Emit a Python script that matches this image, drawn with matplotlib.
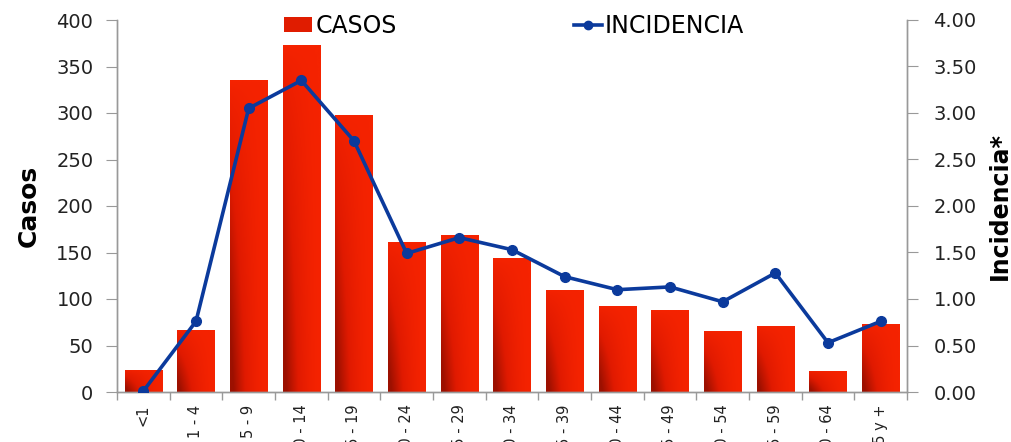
import numpy as np
import matplotlib
matplotlib.use("Agg")
import matplotlib.pyplot as plt
from matplotlib.colors import LinearSegmentedColormap
from matplotlib.lines import Line2D
from matplotlib.patches import Patch

categories = ["<1", "1 - 4", "5 - 9", "10 - 14", "15 - 19", "20 - 24", "25 - 29",
              "30 - 34", "35 - 39", "40 - 44", "45 - 49", "50 - 54", "55 - 59",
              "60 - 64", "65 y +"]
casos = [24, 67, 336, 373, 298, 161, 169, 144, 110, 93, 88, 66, 71, 23, 73]
incidencia = [0.01, 0.76, 3.05, 3.35, 2.70, 1.49, 1.66, 1.53, 1.24, 1.10, 1.13,
              0.97, 1.28, 0.53, 0.76]

plt.rcParams['font.family'] = ['DejaVu Sans']

fig = plt.figure(figsize=(10.12, 4.42), dpi=100)
ax = fig.add_axes([117/1012, 1-392/442, 790/1012, 372/442])
ax2 = ax.twinx()

x = np.arange(len(categories))
bars = ax.bar(x, casos, width=0.71, color='none', edgecolor='none', zorder=2)

cmap = LinearSegmentedColormap.from_list('rg', ['#f52300', '#e01a00', '#9c1000'])
u = np.linspace(0, 1, 40)
v = np.linspace(0, 1, 60)
U, V = np.meshgrid(u, v)
D = np.clip((1 - U) ** 1.6 * (1 - V) ** 0.7 * 1.15, 0, 1)
for b in bars:
    x0, y0 = b.get_x(), b.get_y()
    w, h = b.get_width(), b.get_height()
    im = ax.imshow(D, cmap=cmap, vmin=0, vmax=1, origin='lower',
                   extent=(x0, x0 + w, y0, y0 + h), aspect='auto', zorder=2,
                   interpolation='bilinear')
    im.set_clip_path(b)

ax.set_xlim(-0.5, len(categories) - 0.5)
ax.set_ylim(0, 400)
ax.set_yticks(np.arange(0, 401, 50))
ax2.set_ylim(0, 4)
ax2.set_yticks(np.arange(0, 4.01, 0.5))
ax2.set_yticklabels([f"{t:.2f}" for t in np.arange(0, 4.01, 0.5)])

line_color = '#0b3a9c'
ax2.plot(x, incidencia, color=line_color, lw=2.6, marker='o', ms=7, zorder=3)

ax.set_xticks(x)
ax.set_xticklabels(categories, rotation=90, fontsize=10.5, color='#222222')
ax.set_xticks(np.arange(-0.5, len(categories), 1), minor=True)
ax.tick_params(axis='x', which='major', length=0, pad=9)
ax.tick_params(axis='x', which='minor', length=6, color='#999999', width=1)

ax.tick_params(axis='y', length=8, color='#999999', labelsize=14, labelcolor='#222222', pad=9)
ax2.tick_params(axis='y', length=8, color='#999999', labelsize=14, labelcolor='#222222', pad=11)

for a in (ax, ax2):
    a.spines['top'].set_visible(False)
    for s in ('left', 'right', 'bottom'):
        a.spines[s].set_color('#999999')
        a.spines[s].set_linewidth(1)

ax.set_ylabel("Casos", fontsize=18, fontweight='bold', labelpad=11)
ax2.set_ylabel("Incidencia*", fontsize=17, fontweight='bold', labelpad=8)

handles = [Patch(facecolor='#e01c00', edgecolor='none'),
           Line2D([0], [0], color=line_color, lw=2.6, marker='o', ms=6)]
fig.legend(handles, ["CASOS", "INCIDENCIA"], loc='center left',
           bbox_to_anchor=(284/1012, 1 - 26/442), ncol=2, frameon=False,
           fontsize=17, borderpad=0, borderaxespad=0, handlelength=1.2,
           handleheight=0.6, handletextpad=0.12, columnspacing=7.5)

fig.savefig("out.png", dpi=100)
